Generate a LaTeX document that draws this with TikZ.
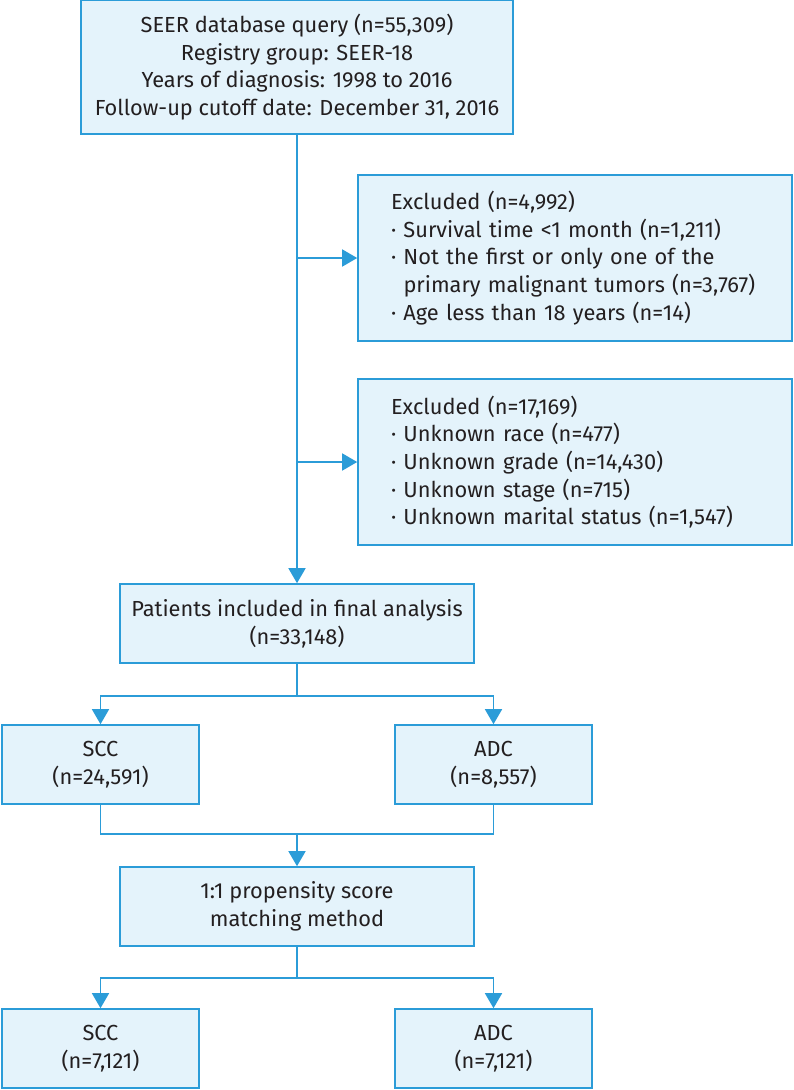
\documentclass[tikz,border=0pt]{standalone}
\usepackage{fontspec}
\setmainfont{Fira Sans}
\usetikzlibrary{arrows.meta}
\definecolor{lineblue}{HTML}{2B9CD8}
\definecolor{boxfill}{HTML}{E4F3FB}
\definecolor{txt}{HTML}{231F20}
\begin{document}
\begin{tikzpicture}[x=1pt,y=-1pt,
  box/.style={draw=lineblue, fill=boxfill, line width=1.6pt, text=txt,
    font=\fontsize{21.8}{27.7}\selectfont, align=center, inner sep=0pt},
  exbox/.style={box, minimum height=166pt, text width=368pt, inner xsep=33pt, align=left},
  smallbox/.style={box, minimum width=197pt, minimum height=79pt},
  midbox/.style={box, minimum width=354pt, minimum height=79pt},
  conn/.style={draw=lineblue, line width=1.6pt},
  arr/.style={conn, -{Triangle[length=15pt,width=17pt]}}]
\useasboundingbox (0,0) rectangle (794,1090);
\node[box, minimum width=432pt, minimum height=134pt] (top) at (297,67)
  {SEER database query (n=55,309)\\Registry group: SEER-18\\Years of diagnosis: 1998 to 2016\\Follow-up cutoff date: December 31, 2016};
\node[exbox] (ex1) at (575,258)
  {Excluded (n=4,992)\\
   · Survival time <1 month (n=1,211)\\
   · Not the first or only one of the\\
   \hphantom{· }primary malignant tumors (n=3,767)\\
   · Age less than 18 years (n=14)};
\node[exbox] (ex2) at (575,462)
  {Excluded (n=17,169)\\
   · Unknown race (n=477)\\
   · Unknown grade (n=14,430)\\
   · Unknown stage (n=715)\\
   · Unknown marital status (n=1,547)};
\node[midbox] (pat) at (297,623.5) {Patients included in final analysis\\(n=33,148)};
\node[smallbox] (scc1) at (100.5,764.5) {SCC\\(n=24,591)};
\node[smallbox] (adc1) at (493.5,764.5) {ADC\\(n=8,557)};
\node[midbox] (match) at (297,906.5) {1:1 propensity score\\matching method};
\node[smallbox] (scc2) at (100.5,1048.5) {SCC\\(n=7,121)};
\node[smallbox] (adc2) at (493.5,1048.5) {ADC\\(n=7,121)};
\coordinate (j1) at (297,258);
\coordinate (j2) at (297,462);
\coordinate (s1) at (297,696);
\coordinate (m1) at (297,834);
\coordinate (s2) at (297,978);
\draw[arr] (top.south) -- (pat.north);
\draw[arr] (j1) -- (ex1.west);
\draw[arr] (j2) -- (ex2.west);
\draw[conn] (pat.south) -- (s1);
\draw[arr] (s1) -| (scc1.north);
\draw[arr] (s1) -| (adc1.north);
\draw[conn] (scc1.south) |- (m1);
\draw[conn] (adc1.south) |- (m1);
\draw[arr] (m1) -- (match.north);
\draw[conn] (match.south) -- (s2);
\draw[arr] (s2) -| (scc2.north);
\draw[arr] (s2) -| (adc2.north);
\end{tikzpicture}
\end{document}
